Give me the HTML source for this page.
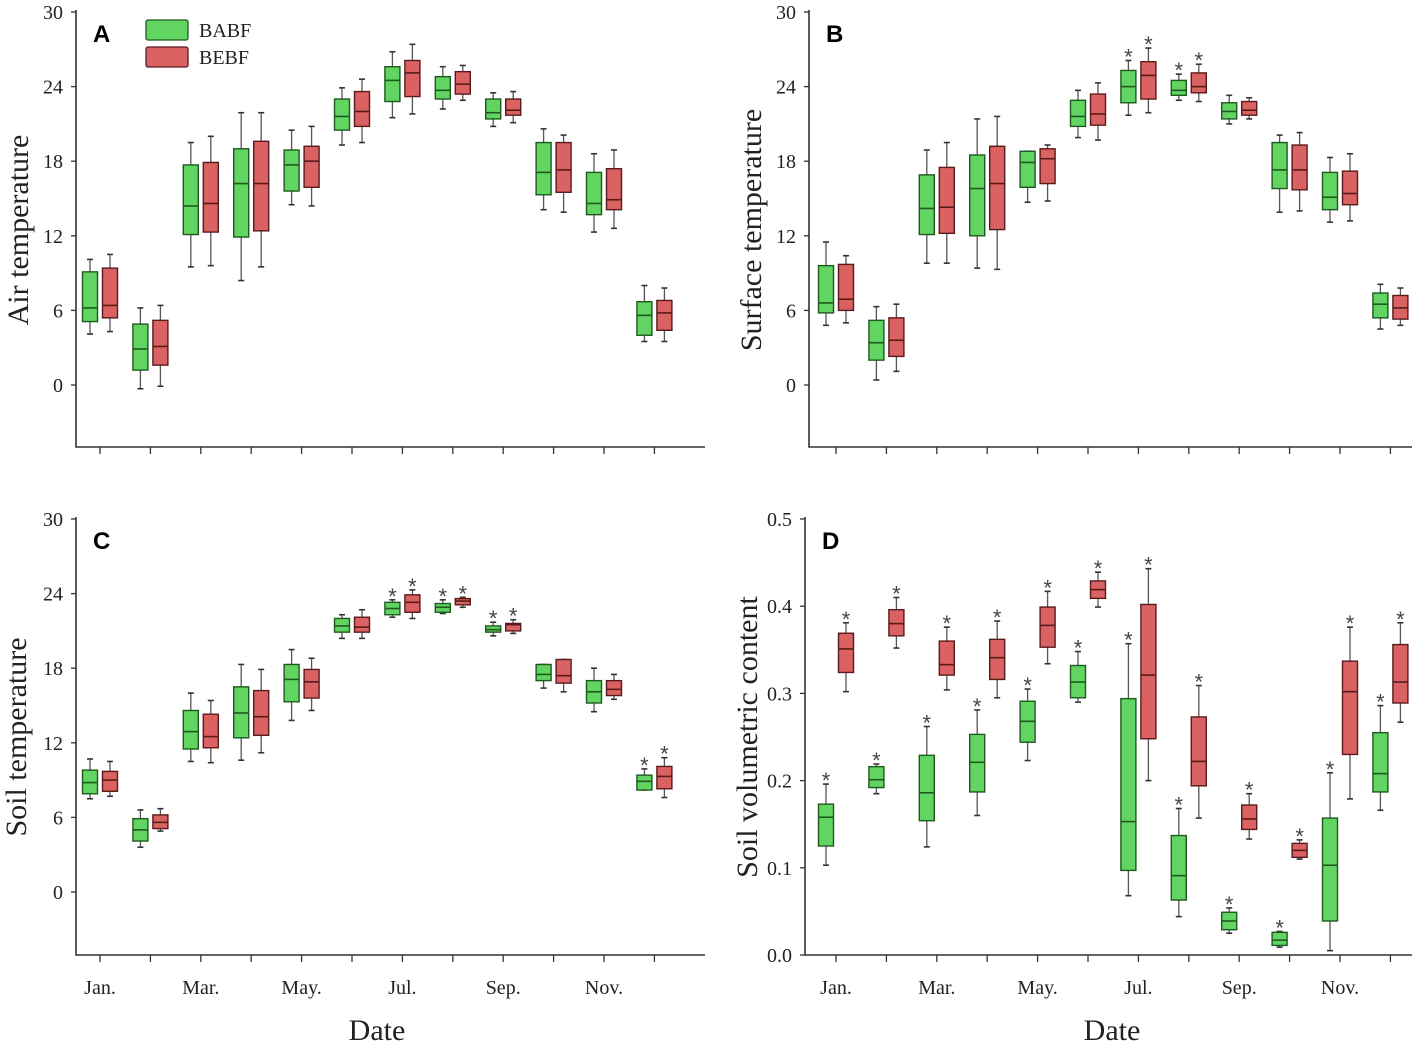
<!DOCTYPE html>
<html><head><meta charset="utf-8"><style>
html,body{margin:0;padding:0;background:#fff;}
svg{display:block;font-family:"Liberation Serif",serif;}
</style></head><body>
<svg id="chart" width="1417" height="1045" viewBox="0 0 1417 1045" xmlns="http://www.w3.org/2000/svg"></svg>
<script>
const months = ["Jan.","Feb.","Mar.","Apr.","May.","Jun.","Jul.","Aug.","Sep.","Oct.","Nov.","Dec."];
const tickLabelMonths = [0,2,4,6,8,10];
// each box: [max, q3, median, q1, min]
const airBABF = [[10.1,9.1,6.2,5.1,4.1],[6.2,4.9,2.9,1.2,-0.3],[19.5,17.7,14.4,12.1,9.5],[21.9,19.0,16.2,11.9,8.4],[20.5,18.9,17.7,15.6,14.5],[23.9,23.0,21.6,20.5,19.3],[26.8,25.6,24.5,22.8,21.5],[25.6,24.8,23.7,23.0,22.2],[23.5,23.0,21.9,21.4,20.8],[20.6,19.5,17.1,15.3,14.1],[18.6,17.1,14.6,13.7,12.3],[8.0,6.7,5.6,4.0,3.5]];
const airBEBF = [[10.5,9.4,6.4,5.4,4.3],[6.4,5.2,3.1,1.6,-0.1],[20.0,17.9,14.6,12.3,9.6],[21.9,19.6,16.2,12.4,9.5],[20.8,19.2,18.0,15.9,14.4],[24.6,23.6,22.0,20.8,19.5],[27.4,26.1,25.1,23.2,21.8],[25.7,25.2,24.2,23.4,22.9],[23.6,23.0,22.1,21.7,21.1],[20.1,19.5,17.3,15.5,13.9],[18.9,17.4,14.9,14.1,12.6],[7.8,6.8,5.8,4.4,3.5]];
const surfBABF = [[11.5,9.6,6.6,5.8,4.8],[6.3,5.2,3.4,2.0,0.4],[18.9,16.9,14.2,12.1,9.8],[21.4,18.5,15.8,12.0,9.4],[18.8,18.8,17.9,15.9,14.7],[23.7,22.9,21.6,20.8,19.9],[26.1,25.3,24.0,22.7,21.7],[25.0,24.5,23.7,23.3,22.9],[23.3,22.7,22.0,21.4,21.0],[20.1,19.5,17.3,15.8,13.9],[18.3,17.1,15.1,14.1,13.1],[8.1,7.4,6.5,5.4,4.5]];
const surfBEBF = [[10.4,9.7,6.9,6.0,5.0],[6.5,5.4,3.6,2.3,1.1],[19.5,17.5,14.3,12.2,9.8],[21.6,19.2,16.2,12.5,9.3],[19.3,19.0,18.2,16.2,14.8],[24.3,23.4,21.8,20.9,19.7],[27.1,26.0,24.9,23.0,21.9],[25.8,25.1,24.0,23.5,22.8],[23.1,22.8,22.1,21.7,21.4],[20.3,19.3,17.3,15.7,14.0],[18.6,17.2,15.4,14.5,13.2],[7.8,7.2,6.2,5.3,4.8]];
const soilBABF = [[10.7,9.8,8.8,7.9,7.5],[6.6,5.9,5.0,4.1,3.6],[16.0,14.6,12.9,11.5,10.5],[18.3,16.5,14.4,12.4,10.6],[19.5,18.3,17.1,15.3,13.8],[22.3,22.0,21.4,20.9,20.4],[23.5,23.3,22.8,22.3,22.1],[23.5,23.2,22.9,22.5,22.4],[21.7,21.4,21.1,20.9,20.6],[18.3,18.3,17.5,17.0,16.4],[18.0,17.0,16.1,15.2,14.5],[9.9,9.4,8.9,8.2,8.2]];
const soilBEBF = [[10.5,9.7,9.0,8.1,7.7],[6.7,6.2,5.6,5.1,4.9],[15.4,14.3,12.5,11.6,10.4],[17.9,16.2,14.1,12.6,11.2],[18.8,17.9,16.9,15.6,14.6],[22.7,22.1,21.3,20.9,20.4],[24.3,23.9,23.3,22.5,22.0],[23.7,23.6,23.4,23.1,22.9],[21.9,21.6,21.5,21.0,20.8],[18.7,18.7,17.4,16.8,16.1],[17.5,17.0,16.3,15.8,15.5],[10.8,10.1,9.3,8.3,7.6]];
const volBABF = [[0.196,0.173,0.158,0.125,0.103],[0.219,0.216,0.201,0.192,0.185],[0.262,0.229,0.186,0.154,0.124],[0.281,0.253,0.221,0.187,0.160],[0.305,0.291,0.268,0.244,0.223],[0.348,0.332,0.313,0.295,0.290],[0.357,0.294,0.153,0.097,0.068],[0.168,0.137,0.091,0.063,0.044],[0.054,0.049,0.039,0.029,0.025],[0.027,0.026,0.017,0.011,0.009],[0.209,0.157,0.103,0.039,0.005],[0.286,0.255,0.208,0.187,0.166]];
const volBEBF = [[0.381,0.369,0.351,0.324,0.302],[0.410,0.396,0.380,0.366,0.352],[0.376,0.360,0.333,0.321,0.304],[0.383,0.362,0.341,0.316,0.295],[0.417,0.399,0.378,0.353,0.334],[0.439,0.429,0.419,0.409,0.399],[0.443,0.402,0.321,0.248,0.200],[0.309,0.273,0.222,0.194,0.157],[0.185,0.172,0.156,0.144,0.133],[0.132,0.128,0.120,0.112,0.110],[0.376,0.337,0.302,0.230,0.179],[0.381,0.356,0.313,0.289,0.267]];
const starsB = [6,7];
const starsC = [6,7,8,11];
const starsD = [0,1,2,3,4,5,6,7,8,9,10,11];
const tempTicks = [0,6,12,18,24,30];
const volTicks = [0,0.1,0.2,0.3,0.4,0.5];

const NS="http://www.w3.org/2000/svg";
const svg=document.getElementById('chart');
function mk(tag,attrs,parent){const e=document.createElementNS(NS,tag);for(const k in attrs)e.setAttribute(k,attrs[k]);(parent||svg).appendChild(e);return e;}

function panel(o){
  const g=mk('g',{});
  
  
  const y=v=>o.y0-(v-o.vmin)/(o.vmax-o.vmin)*(o.y0-o.ytop);
  const xm=i=>o.xt0+50.4*i;
  const ax=mk('path',{d:`M${o.ax} ${o.ytop-2}V${o.bottom}H${o.axr}`,stroke:'#333',fill:'none','stroke-width':1.6},g);
  
  
  o.ticks.forEach(t=>{
    const yy=y(t);
    mk('line',{x1:o.ax-5,x2:o.ax,y1:yy,y2:yy,stroke:'#333','stroke-width':1.3},g);
    const tx=mk('text',{x:o.ax-13,y:yy+7,'text-anchor':'end','font-size':20,fill:'#222'},g);
    tx.textContent=o.fmt(t);
    
    
  });
  months.forEach((m,i)=>{
    mk('line',{x1:xm(i),x2:xm(i),y1:o.bottom,y2:o.bottom+7,stroke:'#333','stroke-width':1.3},g);
  });
  if(o.labels){
    tickLabelMonths.forEach(i=>{
      const tx=mk('text',{x:xm(i),y:o.bottom+39,'text-anchor':'middle','font-size':20,fill:'#222'},g);
      tx.textContent=months[i];
      
      
    });
    const xt=mk('text',{x:o.dateX,y:o.bottom+85,'text-anchor':'middle','font-size':30,fill:'#222'},g);
    xt.textContent='Date';
    
    
  }
  const yt=mk('text',{x:0,y:0,'text-anchor':'middle','font-size':30,fill:'#222',transform:`translate(${o.ytx},${o.yty}) rotate(-90)`},g);
  yt.textContent=o.ytitle;
  
  
  const lt=mk('text',{x:o.ax+17,y:o.ytop+30,'font-size':24,'font-weight':'bold','font-family':'Liberation Sans, sans-serif',fill:'#000'},g);
  lt.textContent=o.letter;
  
  
  const series=[[o.g,-10,'#62d462','#1e5a1e','babf'],[o.r,10,'#db6262','#5a1a1a','bebf']];
  series.forEach(([data,off,fill,edge,sn])=>{
    data.forEach((b,i)=>{
      const cx=xm(i)+off,w=15;
      const bg=mk('g',{},g);
      
      
      mk('line',{x1:cx,x2:cx,y1:y(b[0]),y2:y(b[4]),stroke:'#555','stroke-width':1.3},bg);
      mk('line',{x1:cx-3,x2:cx+3,y1:y(b[0]),y2:y(b[0]),stroke:'#333','stroke-width':1.6},bg);
      mk('line',{x1:cx-3,x2:cx+3,y1:y(b[4]),y2:y(b[4]),stroke:'#333','stroke-width':1.6},bg);
      mk('rect',{x:cx-w/2,y:y(b[1]),width:w,height:Math.max(1,y(b[3])-y(b[1])),fill:fill,stroke:edge,'stroke-width':1.4},bg);
      mk('line',{x1:cx-w/2,x2:cx+w/2,y1:y(b[2]),y2:y(b[2]),stroke:edge,'stroke-width':1.6},bg);
      if(o.stars.indexOf(i)>=0){
        const s=mk('text',{x:cx,y:y(b[0])+4,'text-anchor':'middle','font-size':22,'font-family':'Liberation Sans, sans-serif',fill:'#444'},bg);
        s.textContent='*';
        
        
      }
    });
  });
}
const tf=v=>String(v), vf=v=>v.toFixed(1);
panel({name:'panel-a-air-temperature',letter:'A',ytitle:'Air temperature',g:airBABF,r:airBEBF,stars:[],ax:76,axr:705,xt0:100,ytop:12,y0:385,vmin:0,vmax:30,bottom:447,ticks:tempTicks,fmt:tf,ytx:28,yty:230,labels:false});
panel({name:'panel-b-surface-temperature',letter:'B',ytitle:'Surface temperature',g:surfBABF,r:surfBEBF,stars:starsB,ax:809,axr:1412,xt0:836,ytop:12,y0:385,vmin:0,vmax:30,bottom:447,ticks:tempTicks,fmt:tf,ytx:761,yty:230,labels:false});
panel({name:'panel-c-soil-temperature',letter:'C',ytitle:'Soil temperature',g:soilBABF,r:soilBEBF,stars:starsC,ax:76,axr:705,xt0:100,ytop:519,y0:892,vmin:0,vmax:30,bottom:955,ticks:tempTicks,fmt:tf,ytx:26,yty:737,labels:true,dateX:377});
panel({name:'panel-d-soil-volumetric-content',letter:'D',ytitle:'Soil volumetric content',g:volBABF,r:volBEBF,stars:starsD,ax:805,axr:1412,xt0:836,ytop:519,y0:955,vmin:0,vmax:0.5,bottom:955,ticks:volTicks,fmt:vf,ytx:757,yty:737,labels:true,dateX:1112});
const lg=mk('g',{});


[['BABF','#62d462','#1e5a1e',20],['BEBF','#db6262','#5a1a1a',47]].forEach(([t,f,e,yy])=>{
  const en=mk('g',{},lg);
  
  
  mk('rect',{x:146,y:yy,width:42,height:20,rx:2,fill:f,stroke:e,'stroke-width':1.3},en);
  const tx=mk('text',{x:199,y:yy+17,'font-size':20,fill:'#222'},en);
  tx.textContent=t;
});
</script>
</body></html>
